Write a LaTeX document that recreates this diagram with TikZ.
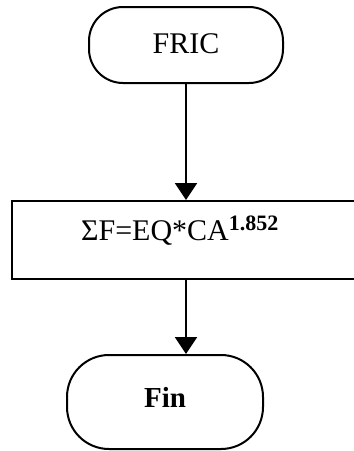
\documentclass[tikz,border=0pt]{standalone}
\usepackage{fontspec}
\setmainfont{Liberation Serif}
\usetikzlibrary{arrows.meta,calc}
\tikzset{
  termbox/.style={draw=black, line width=2pt, rounded corners=34pt, inner sep=0pt},
  procbox/.style={draw=black, line width=2pt, inner sep=0pt},
  flowarrow/.style={draw=black, line width=2pt, -{Triangle[length=17pt,width=22pt]}},
  lbl/.style={font=\fontsize{30}{34}\selectfont, inner sep=0pt}
}
\begin{document}
\begin{tikzpicture}[x=1pt,y=-1pt]
\useasboundingbox (0,0) rectangle (354,451);
\fill[white] (0,0) rectangle (354,451);
\node[termbox, lbl, minimum width=194pt, minimum height=76pt, text height=21pt, text depth=5pt] (start) at (186,45) {FRIC};
\node[procbox, minimum width=350pt, minimum height=78pt, anchor=north west] (calc) at (11,200) {};
\node[lbl, anchor=base] (calctext) at (180,240) {ΣF=EQ*CA\textsuperscript{\fontsize{22}{24}\selectfont\bfseries 1.852}};
\node[termbox, minimum width=196pt, minimum height=94pt, rounded corners=42pt, font=\fontsize{29}{33}\selectfont\bfseries, text height=20pt, text depth=10pt, inner sep=0pt] (fin) at (165,402) {Fin};
\coordinate (a1) at (start.south);
\draw[flowarrow] (a1) -- (a1 |- calc.north);
\draw[flowarrow] (a1 |- calc.south) -- (a1 |- fin.north);
\end{tikzpicture}
\end{document}
